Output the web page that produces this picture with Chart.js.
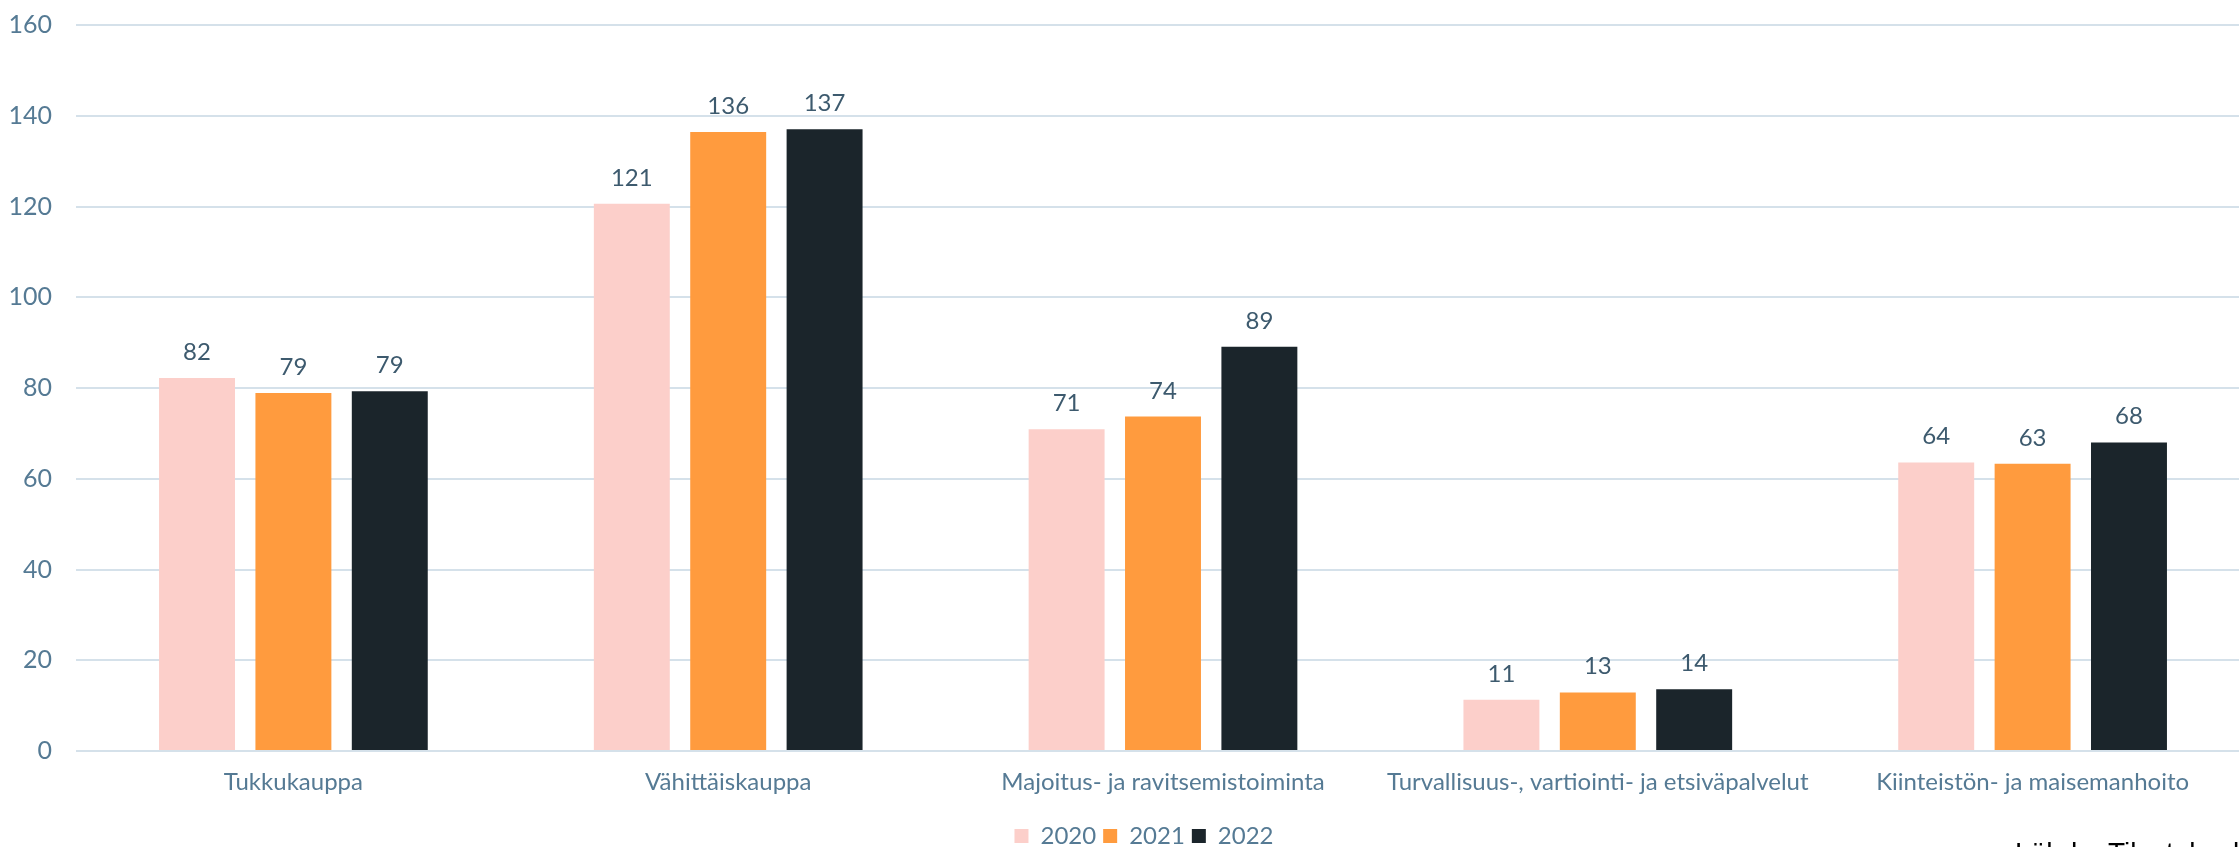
<!DOCTYPE html>
<html lang="fi">
<head>
  <meta charset="UTF-8" />
  <title>Toimialat 2020–2022</title>
  <script src="https://cdn.jsdelivr.net/npm/chart.js"></script>
  <style>
    html, body { margin: 0; padding: 0; background: #fff; overflow: hidden; }
    #wrap { position: absolute; left: 0; top: 0; width: 2250px; height: 847px; }
    #source { position: absolute; left: 2015px; top: 839px; font: 28px/28px "Liberation Sans", Arial, sans-serif; color: #000; white-space: nowrap; }
  </style>
</head>
<body>
  <div id="wrap"><canvas id="chart"></canvas></div>
  <div id="source">Lähde: Tilastokeskus</div>

  <script>
    // categories and yearly values
    const categories = ["Tukkukauppa", "Vähittäiskauppa", "Majoitus- ja ravitsemistoiminta",
      "Turvallisuus-, vartiointi- ja etsiväpalvelut", "Kiinteistön- ja maisemanhoito"];
    const years = ["2020", "2021", "2022"];
    const values2020 = [82.2, 120.6, 70.9, 11.3, 63.6];
    const values2021 = [78.9, 136.4, 73.7, 12.9, 63.3];
    const values2022 = [79.3, 137.0, 89.1, 13.6, 68.0];
    const yTicks = [0, 20, 40, 60, 80, 100, 120, 140, 160];

    const colors = ["#fccfca", "#ff9b3e", "#1b252b"];
    const tickColor = "#557a94";

    // draw rounded value above each bar
    const barLabels = {
      id: "barLabels",
      afterLayout(chart) {
        // legend sits a bit lower and right of centre in the original
        chart.legend.left += 19;
        chart.legend.right += 19;
        chart.legend.top += 11;
        chart.legend.bottom += 11;
      },
      afterDatasetsDraw(chart) {
        const ctx = chart.ctx;
        ctx.save();
        ctx.font = "24px Lato";
        ctx.fillStyle = "#3d5a6e";
        ctx.textAlign = "center";
        ctx.textBaseline = "alphabetic";
        chart.data.datasets.forEach((ds, i) => {
          chart.getDatasetMeta(i).data.forEach((bar, j) => {
            ctx.fillText(Math.round(ds.data[j]), bar.x, bar.y - 18);
          });
        });
        ctx.restore();
      }
    };

    new Chart(document.getElementById("chart"), {
      type: "bar",
      data: {
        labels: categories,
        datasets: [values2020, values2021, values2022].map((d, i) => ({
          label: years[i],
          data: d,
          backgroundColor: colors[i],
          categoryPercentage: 0.665,
          barPercentage: 0.788
        }))
      },
      options: {
        responsive: true,
        maintainAspectRatio: false,
        animation: false,
        layout: { padding: { left: 0, right: 0, top: 25, bottom: 0 } },
        scales: {
          x: {
            grid: { display: false, drawTicks: false },
            border: { display: false },
            ticks: { color: tickColor, font: { family: "Lato", size: 24 }, padding: 17, maxRotation: 0 },
            afterFit: s => { s.height = 55; s.paddingLeft = 0; s.paddingRight = 0; }
          },
          y: {
            min: 0,
            max: 160,
            afterBuildTicks: axis => { axis.ticks = yTicks.map(v => ({ value: v })); },
            grid: { color: "#d5e1ea", lineWidth: 2, drawTicks: false },
            border: { display: false },
            ticks: { color: tickColor, font: { family: "Lato", size: 25 }, padding: 24 },
            afterFit: s => { s.width = 76; s.paddingTop = 0; s.paddingBottom = 0; }
          }
        },
        plugins: {
          legend: {
            position: "bottom",
            labels: {
              color: tickColor,
              font: { family: "Lato", size: 24 },
              boxWidth: 14,
              boxHeight: 14,
              padding: 7
            }
          },
          tooltip: { enabled: false }
        }
      },
      plugins: [barLabels]
    });
  </script>
</body>
</html>
